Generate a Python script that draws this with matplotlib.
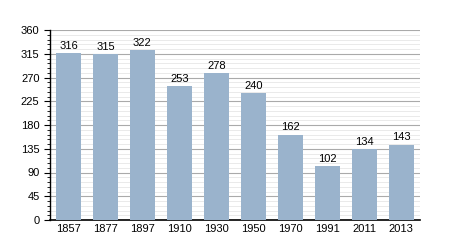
import matplotlib
matplotlib.use('Agg')
from matplotlib import pyplot as plt
from matplotlib.ticker import MultipleLocator

years = ['1857', '1877', '1897', '1910', '1930', '1950', '1970', '1991', '2011', '2013']
population = [316, 315, 322, 253, 278, 240, 162, 102, 134, 143]

plt.rcParams['font.family'] = ['Liberation Sans', 'DejaVu Sans']

fig = plt.figure(figsize=(4.5, 2.5), dpi=100)
ax = fig.add_axes([0.111, 0.12, 0.822, 0.76])

x = range(len(years))
ax.bar(x, population, width=0.68, color='#9ab3cc', zorder=3)
for xi, v in zip(x, population):
    ax.text(xi, v + 4, str(v), ha='center', va='bottom', fontsize=8, zorder=4)

ax.set_xlim(-0.5, len(years) - 0.5)
ax.set_ylim(0, 360)
ax.yaxis.set_major_locator(MultipleLocator(45))
ax.yaxis.set_minor_locator(MultipleLocator(9))
ax.grid(which='major', axis='y', color='#aaaaaa', linewidth=0.8, zorder=1)
ax.grid(which='minor', axis='y', color='#e6e6e6', linewidth=0.6, zorder=0)
ax.set_xticks(list(x))
ax.set_xticklabels(years)
ax.tick_params(axis='x', length=0, labelsize=8, pad=3)
ax.tick_params(axis='y', which='major', length=4, width=0.8, labelsize=8)
ax.tick_params(axis='y', which='minor', length=2, width=0.6)
for s in ['top', 'right']:
    ax.spines[s].set_visible(False)
ax.spines['left'].set_linewidth(1)
ax.spines['bottom'].set_linewidth(1.2)

fig.savefig('out.png', dpi=100)
